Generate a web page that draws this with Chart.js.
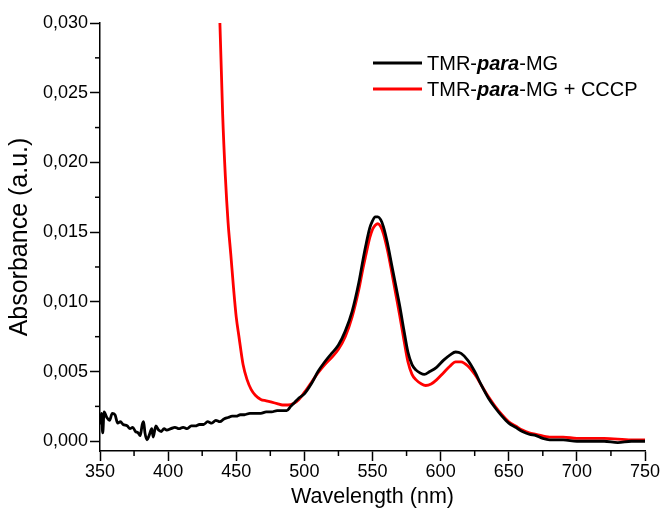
<!DOCTYPE html>
<html><head><meta charset="utf-8">
<script src="https://cdn.jsdelivr.net/npm/chart.js@4/dist/chart.umd.min.js"></script>
<style>html,body{margin:0;padding:0;background:#fff;}#wrap{width:662px;height:519px;}</style>
</head><body><div id="wrap"><canvas id="c" width="662" height="519"></canvas></div>
<script>
// ---- data ----
const blackWl = [350,351,352,353,355,357,359,361,363,365,367,370,372,374,376,378,379.5,381,382,383,384.5,386,388,389,391,393,395,397,399,402,405,408,411,414,417,420,423,426,429,432,435,438,441,444,447,450,453,456,460,464,468,472,476,480,484,487,490,493,496,500,505,510,515,520,525,530,535,540,543,545,548,550,552,554,556,558,561,564,567,570,573,576,579,582,585,588,592,597,602,607,611,615,620,625,630,635,640,645,650,655,660,665,670,675,680,690,700,710,720,730,740,750];
const blackAbs = [0.0012,0.0020,0.0006,0.0021,0.0017,0.0015,0.0020,0.0019,0.0013,0.0014,0.0012,0.0011,0.0009,0.0010,0.0007,0.0006,0.0004,0.0012,0.0014,0.0006,0.0001,0.0004,0.0009,0.0003,0.0011,0.0008,0.0007,0.0009,0.0008,0.0009,0.0010,0.0009,0.0010,0.0009,0.0011,0.0011,0.0012,0.0012,0.0014,0.0013,0.0015,0.0014,0.0016,0.0017,0.0018,0.0018,0.0019,0.0019,0.0020,0.0020,0.0020,0.0021,0.0021,0.0022,0.0022,0.0022,0.0025,0.0028,0.0031,0.0034,0.0041,0.0050,0.0057,0.0063,0.0069,0.0079,0.0093,0.0114,0.0130,0.0140,0.0153,0.0158,0.0161,0.0161,0.0159,0.0154,0.0142,0.0127,0.0112,0.0097,0.0080,0.0064,0.0055,0.0051,0.0049,0.0048,0.0050,0.0053,0.0058,0.0062,0.0064,0.0063,0.0058,0.0050,0.0040,0.0031,0.0024,0.0018,0.0013,0.0010,0.0007,0.0005,0.0004,0.0002,0.0001,0.0001,0.0000,0.0000,0.0000,-0.0001,0.0000,0.0000];
const redWl = [434,436,438,440,442,444,446,448,450,452,455,458,461,464,468,472,476,480,484,488,492,496,500,505,510,515,520,525,530,535,540,543,545,548,550,552,554,556,558,561,564,567,570,573,576,579,582,586,589,593,597,602,607,611,615,620,625,630,635,640,645,650,655,660,665,670,680,690,700,720,740,750];
const redAbs = [0.040,0.034,0.030,0.0235,0.0190,0.0157,0.0134,0.0110,0.0089,0.0075,0.0055,0.0044,0.0037,0.0033,0.0030,0.0029,0.0028,0.0027,0.0026,0.0026,0.0027,0.0030,0.0035,0.0042,0.0049,0.0055,0.0060,0.0066,0.0075,0.0089,0.0109,0.0124,0.0133,0.0146,0.0152,0.0155,0.0156,0.0154,0.0149,0.0137,0.0122,0.0106,0.0090,0.0073,0.0057,0.0048,0.0044,0.0041,0.0040,0.0041,0.0044,0.0049,0.0054,0.0057,0.0057,0.0054,0.0048,0.0040,0.0032,0.0025,0.0019,0.0014,0.0011,0.0008,0.0006,0.0005,0.0003,0.0003,0.0002,0.0002,0.0001,0.0001];
const xTicks = [350,400,450,500,550,600,650,700,750];
const xMinor = [375,425,475,525,575,625,675,725];
const yTicks = [0,0.005,0.010,0.015,0.020,0.025,0.030];
const yMinor = [0.0025,0.0075,0.0125,0.0175,0.0225,0.0275];
const seriesNames = ['TMR-para-MG','TMR-para-MG + CCCP'];
const seriesColors = ['#000000','#ff0000'];
// legend label pieces: [text, italicBold]
const legendPieces = [
  [['TMR-',false],['para',true],['-MG',false]],
  [['TMR-',false],['para',true],['-MG + CCCP',false]]
];

const FONT = "'Liberation Sans', Arial, sans-serif";
Chart.defaults.font.family = FONT;
Chart.defaults.color = '#000';

const minorTicks = {
  id:'minorTicks',
  afterDraw(chart){
    const ctx = chart.ctx, xs = chart.scales.x, ys = chart.scales.y;
    ctx.save(); ctx.strokeStyle='#000'; ctx.lineWidth=1.5;
    xMinor.forEach(v=>{ const p=xs.getPixelForValue(v); ctx.beginPath(); ctx.moveTo(p,xs.top); ctx.lineTo(p,xs.top+5); ctx.stroke(); });
    yMinor.forEach(v=>{ const p=ys.getPixelForValue(v); ctx.beginPath(); ctx.moveTo(ys.right-5,p); ctx.lineTo(ys.right,p); ctx.stroke(); });
    ctx.restore();
  }
};
const customLegend = {
  id:'customLegend',
  afterDraw(chart){
    const ctx = chart.ctx;
    const x0 = 373, x1 = 422, tx = 427, ys = [63, 89];
    ctx.save();
    chart.data.datasets.forEach((ds,i)=>{
      ctx.strokeStyle = ds.borderColor; ctx.lineWidth = 3;
      ctx.beginPath(); ctx.moveTo(x0,ys[i]); ctx.lineTo(x1,ys[i]); ctx.stroke();
      let x = tx; ctx.fillStyle='#000'; ctx.textBaseline='middle'; ctx.textAlign='left';
      legendPieces[i].forEach(([t,it])=>{
        ctx.font = (it?'italic bold ':'') + '20px ' + FONT;
        ctx.fillText(t, x, ys[i]+1);
        x += ctx.measureText(t).width;
      });
    });
    ctx.restore();
  }
};

const fmt = v => v.toFixed(3).replace('.', ',');

new Chart(document.getElementById('c'), {
  type:'line',
  data:{
    datasets:[
      {label:seriesNames[0], data:blackWl.map((w,i)=>({x:w,y:blackAbs[i]})), borderColor:seriesColors[0], borderWidth:2.8, pointRadius:0, cubicInterpolationMode:'monotone'},
      {label:seriesNames[1], data:redWl.map((w,i)=>({x:w,y:redAbs[i]})), borderColor:seriesColors[1], borderWidth:2.8, pointRadius:0, cubicInterpolationMode:'monotone'}
    ]
  },
  options:{
    responsive:false, animation:false, devicePixelRatio:1,
    layout:{padding:{top:23,right:17,left:0,bottom:0}},
    plugins:{legend:{display:false}, tooltip:{enabled:false}},
    scales:{
      x:{type:'linear', min:350, max:750,
        afterBuildTicks:s=>{s.ticks=xTicks.map(v=>({value:v}));},
        afterFit:s=>{s.height=68;},
        grid:{drawOnChartArea:false, drawTicks:true, tickLength:10, tickColor:'#000', tickWidth:1.5},
        border:{color:'#000', width:1.5},
        ticks:{font:{size:18}, padding:0, maxRotation:0, color:'#000'},
        title:{display:true, text:'Wavelength (nm)', font:{size:21.5}, padding:{top:9,bottom:9}, color:'#000'}
      },
      y:{type:'linear', min:-0.0007, max:0.030,
        afterBuildTicks:s=>{s.ticks=yTicks.map(v=>({value:v}));},
        afterFit:s=>{s.width=100;},
        grid:{drawOnChartArea:false, drawTicks:true, tickLength:10, tickColor:'#000', tickWidth:1.5},
        border:{color:'#000', width:1.5},
        ticks:{font:{size:18}, padding:2, color:'#000', callback:v=>fmt(v)},
        title:{display:true, text:'Absorbance (a.u.)', font:{size:25}, padding:{top:5,bottom:5}, color:'#000'}
      }
    }
  },
  plugins:[minorTicks, customLegend]
});
</script></body></html>
